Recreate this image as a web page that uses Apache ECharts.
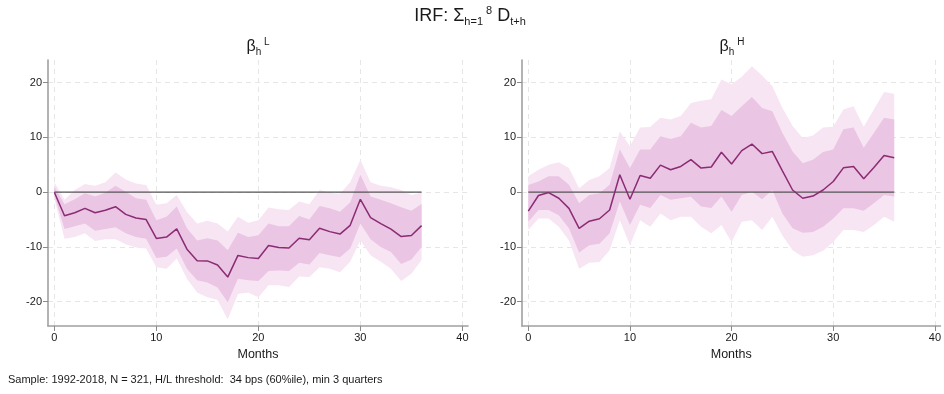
<!DOCTYPE html>
<html>
<head>
<meta charset="utf-8">
<script src="https://cdn.jsdelivr.net/npm/echarts@6/dist/echarts.min.js"></script>
<style>
  html, body { margin: 0; padding: 0; background: #fff; }
  #chart { width: 944px; height: 394px; }
</style>
</head>
<body>
<div id="chart"></div>
<script>
// Horizon in months
const months = [0, 1, 2, 3, 4, 5, 6, 7, 8, 9, 10, 11, 12, 13, 14, 15, 16, 17, 18,
  19, 20, 21, 22, 23, 24, 25, 26, 27, 28, 29, 30, 31, 32, 33, 34, 35, 36];

// Tick labels
const xTicks = [0, 10, 20, 30, 40];
const yTicks = [-20, -10, 0, 10, 20];

// beta_h^L : point estimate and confidence bands
const lowEst = [0, -4.3, -3.75, -2.95, -3.75, -3.3, -2.65, -4.05, -4.7, -5.0, -8.45, -8.2, -6.7,
  -10.4, -12.5, -12.55, -13.3, -15.5, -11.55, -11.95, -12.1, -9.75, -10.1, -10.2, -8.4, -8.7,
  -6.6, -7.2, -7.65, -6.05, -1.3, -4.65, -5.75, -6.75, -8.1, -7.9, -6.1];
const lowInnerUp = [1.0, -2.2, -1.3, -0.2, -0.8, -0.1, 1.2, 0.1, -1.1, -1.4, -5.1, -4.5, -2.6,
  -6.6, -8.8, -8.4, -8.8, -10.6, -7.4, -8.2, -7.85, -5.7, -6.2, -6.2, -4.35, -5.0,
  -2.5, -2.95, -3.55, -1.9, 3.2, -0.8, -1.4, -2.0, -2.75, -3.4, -2.15];
const lowInnerDn = [-0.6, -6.7, -6.2, -5.7, -7.05, -6.7, -6.4, -7.5, -8.2, -8.5, -12.0, -11.8, -10.3,
  -14.0, -16.1, -16.5, -17.4, -20.1, -15.8, -16.1, -16.2, -14.4, -14.3, -14.4, -12.9, -13.2,
  -11.1, -11.5, -11.9, -10.3, -5.7, -8.6, -10.0, -10.9, -13.1, -12.3, -10.0];
const lowOuterUp = [1.8, -1.4, 0.4, 1.5, 1.2, 1.8, 3.6, 2.3, 1.6, 1.3, -2.3, -2.0, -0.5,
  -3.6, -5.7, -5.2, -5.7, -7.2, -4.5, -5.6, -5.1, -2.8, -3.1, -3.25, -1.7, -2.2,
  0.4, -0.1, -0.3, 1.8, 5.9, 1.8, 1.2, 0.9, 0.4, -0.5, -0.1];
const lowOuterDn = [-1.2, -8.5, -8.2, -7.5, -8.9, -8.6, -8.6, -9.5, -10.1, -10.3, -13.7, -14.0, -12.1,
  -15.8, -18.3, -19.2, -19.7, -23.2, -18.6, -18.3, -19.2, -17.0, -17.0, -17.3, -15.4, -15.5,
  -13.7, -14.0, -14.6, -12.7, -8.8, -11.5, -12.7, -14.0, -16.2, -14.9, -12.4];

// beta_h^H : point estimate and confidence bands
const highEst = [-3.45, -0.6, -0.07, -1.1, -2.95, -6.6, -5.3, -4.85, -3.25, 3.2, -1.3, 3.05, 2.55,
  4.95, 4.1, 4.7, 5.95, 4.4, 4.6, 7.3, 5.15, 7.6, 8.8, 7.05, 7.45, 3.9,
  0.4, -1.1, -0.7, 0.4, 1.95, 4.45, 4.7, 2.45, 4.5, 6.7, 6.3];
const highInnerUp = [1.3, 1.95, 2.9, 2.9, 1.35, -2.0, -0.5, -0.2, 1.35, 7.8, 4.4, 7.8, 7.8,
  10.2, 9.7, 10.2, 12.7, 11.8, 12.1, 15.0, 13.9, 15.7, 17.4, 15.4, 14.8, 10.8,
  7.45, 5.3, 5.95, 7.35, 7.8, 11.5, 11.8, 8.1, 10.8, 13.6, 13.3];
const highInnerDn = [-5.4, -3.25, -3.25, -4.2, -6.6, -11.0, -9.7, -9.4, -7.5, -1.7, -6.0, -2.3, -2.9,
  -0.5, -1.4, -1.1, -0.85, -2.6, -2.9, -0.8, -3.55, -0.5, 0.1, -1.3, 0.4, -3.9,
  -6.6, -7.4, -7.25, -6.3, -4.8, -2.95, -2.95, -3.4, -2.0, -0.5, -0.8];
const highOuterUp = [2.9, 4.1, 5.0, 5.45, 4.4, 0.7, 2.25, 2.9, 4.4, 11.1, 8.4, 11.8, 11.9,
  13.6, 13.3, 13.9, 16.3, 16.7, 17.0, 20.6, 19.7, 21.1, 23.0, 21.3, 19.4, 15.4,
  12.1, 9.9, 10.35, 11.8, 11.95, 15.1, 15.7, 11.95, 15.1, 18.3, 18.0];
const highOuterDn = [-6.9, -4.8, -4.8, -6.3, -8.8, -14.0, -12.9, -12.75, -10.6, -5.1, -9.7, -5.1, -6.3,
  -3.9, -5.1, -4.5, -4.5, -6.3, -7.5, -6.0, -9.1, -5.4, -5.1, -6.9, -4.5, -7.9,
  -10.6, -11.8, -11.5, -10.7, -9.1, -6.9, -6.9, -7.25, -6.0, -4.5, -5.4];

// Reference line at zero spanning the horizon
const zeroLine = [[months[0], 0], [months[months.length - 1], 0]];

const COLORS = {
  line: '#8b2b73',
  inner: '#eac5e4',
  outer: '#f7e5f3',
  zero: '#555555',
  axis: '#a0a0a0',
  grid: '#e6e6e6',
  text: '#1a1a1a'
};
const FONT = 'Liberation Sans, Arial, Helvetica, sans-serif';

const pairs = (ys) => months.map((m, i) => [m, ys[i]]);

// A shaded confidence band drawn as one polygon: upper edge left to right,
// then lower edge right to left, positioned through the axis scales.
function band(idx, up, dn, color) {
  return {
    type: 'custom', xAxisIndex: idx, yAxisIndex: idx, silent: true,
    data: months.map((m, i) => [m, up[i], dn[i]]),
    encode: { x: 0, y: [1, 2] },
    renderItem: function (params, api) {
      if (params.dataIndex !== 0) return null;
      const pts = [];
      for (let i = 0; i < months.length; i++) pts.push(api.coord([months[i], up[i]]));
      for (let i = months.length - 1; i >= 0; i--) pts.push(api.coord([months[i], dn[i]]));
      return { type: 'polygon', shape: { points: pts }, style: { fill: color, stroke: null } };
    }
  };
}

function panelSeries(idx, est, iu, id, ou, od) {
  return [
    band(idx, ou, od, COLORS.outer),
    band(idx, iu, id, COLORS.inner),
    {
      type: 'line', xAxisIndex: idx, yAxisIndex: idx, data: zeroLine,
      symbol: 'none', silent: true,
      lineStyle: { color: COLORS.zero, width: 1.3 }
    },
    {
      type: 'line', xAxisIndex: idx, yAxisIndex: idx, data: pairs(est),
      symbol: 'none', silent: true,
      lineStyle: { color: COLORS.line, width: 1.5 }
    }
  ];
}

const dashed = { show: true, lineStyle: { color: COLORS.grid, type: [5, 4], width: 1 } };

function xAxis(idx) {
  return {
    type: 'value', gridIndex: idx, min: -0.62, max: 40.55,
    name: 'Months', nameLocation: 'middle', nameGap: 21,
    nameTextStyle: { fontSize: 12.5, color: COLORS.text, fontFamily: FONT },
    axisLine: { show: true, onZero: false, lineStyle: { color: COLORS.axis, width: 1.6 } },
    axisTick: { show: true, length: 5, customValues: xTicks, lineStyle: { color: '#8a8a8a', width: 1 } },
    axisLabel: { customValues: xTicks, margin: 6, fontSize: 11, color: COLORS.text, fontFamily: FONT },
    splitLine: dashed
  };
}

function yAxis(idx) {
  return {
    type: 'value', gridIndex: idx, min: -24.44, max: 24.15,
    axisLine: { show: true, onZero: false, lineStyle: { color: COLORS.axis, width: 1.6 } },
    axisTick: { show: true, length: 5, customValues: yTicks, lineStyle: { color: '#8a8a8a', width: 1 } },
    axisLabel: { customValues: yTicks, margin: 6, fontSize: 11, color: COLORS.text, fontFamily: FONT },
    splitLine: dashed
  };
}

const txt = (size, lh, va) => {
  const s = { fontSize: size, lineHeight: lh, fontWeight: 'normal', fontFamily: FONT, color: COLORS.text };
  if (va) s.verticalAlign = va;
  return s;
};

const chart = echarts.init(document.getElementById('chart'), null, { renderer: 'canvas' });
chart.setOption({
  animation: false,
  backgroundColor: '#ffffff',
  title: [
    {
      text: '{a|IRF: Σ}{s|h=1}{p| 8}{a| D}{s|t+h}',
      left: 470, textAlign: 'center', top: 5, padding: 0,
      textStyle: { fontWeight: 'normal', rich: { a: txt(18, 22), s: txt(11, 11, 'bottom'), p: txt(11, 11, 'top') } }
    },
    {
      text: '{a|β}{s|h}{p| L}',
      left: 258, textAlign: 'center', top: 37, padding: 0,
      textStyle: { fontWeight: 'normal', rich: { a: txt(16, 20), s: txt(10, 10, 'bottom'), p: txt(10, 10, 'top') } }
    },
    {
      text: '{a|β}{s|h}{p| H}',
      left: 732, textAlign: 'center', top: 37, padding: 0,
      textStyle: { fontWeight: 'normal', rich: { a: txt(16, 20), s: txt(10, 10, 'bottom'), p: txt(10, 10, 'top') } }
    },
    {
      text: 'Sample: 1992-2018, N = 321, H/L threshold:  34 bps (60%ile), min 3 quarters',
      left: 8, top: 374, padding: 0,
      textStyle: { fontSize: 11, fontWeight: 'normal', color: COLORS.text, fontFamily: FONT }
    }
  ],
  grid: [
    { left: 48, top: 60, width: 420, height: 266 },
    { left: 522, top: 60, width: 420, height: 266 }
  ],
  xAxis: [xAxis(0), xAxis(1)],
  yAxis: [yAxis(0), yAxis(1)],
  series: [].concat(
    panelSeries(0, lowEst, lowInnerUp, lowInnerDn, lowOuterUp, lowOuterDn),
    panelSeries(1, highEst, highInnerUp, highInnerDn, highOuterUp, highOuterDn)
  )
});
</script>
</body>
</html>
